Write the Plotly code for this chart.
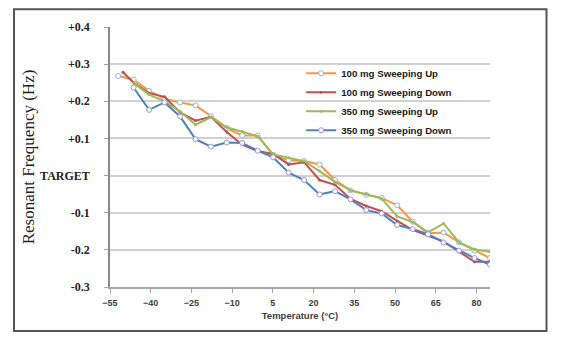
import plotly.graph_objects as go

# Temperatures (°C) of the measurement points
temps = [-52, -46.3, -40.6, -34.9, -29.2, -23.5, -17.8, -12.0, -6.3, -0.6, 5.1, 10.8,
         16.5, 22.2, 27.9, 33.6, 39.4, 45.1, 50.8, 56.5, 62.2, 67.9, 73.6, 79.3, 85.0]
temps_100_down = [-50.2, -46.3, -40.6, -34.9, -29.2, -23.5, -17.8, -12.0, -6.3, -0.6, 5.1, 10.8,
                  16.5, 22.2, 27.9, 33.6, 39.4, 45.1, 50.8, 56.5, 62.2, 67.9, 73.6, 79.3, 85.0]

up_100 = [0.268, 0.258, 0.228, 0.207, 0.197, 0.189, 0.16, 0.128, 0.108, 0.108, 0.055, 0.041,
          0.039, 0.03, -0.012, -0.04, -0.052, -0.06, -0.08, -0.124, -0.155, -0.153, -0.18, -0.202, -0.222]
down_100 = [0.278, 0.25, 0.222, 0.212, 0.17, 0.148, 0.158, 0.117, 0.083, 0.066, 0.058, 0.03,
            0.036, -0.012, -0.025, -0.063, -0.082, -0.096, -0.122, -0.146, -0.162, -0.177, -0.205, -0.232, -0.232]
up_350 = [None, 0.249, 0.218, 0.2, 0.173, 0.137, 0.157, 0.13, 0.119, 0.106, 0.057, 0.048,
          0.039, 0.012, -0.017, -0.04, -0.05, -0.062, -0.11, -0.125, -0.153, -0.129, -0.18, -0.199, -0.205]
down_350 = [None, 0.237, 0.177, 0.197, 0.159, 0.098, 0.078, 0.089, 0.088, 0.067, 0.049, 0.008,
            -0.012, -0.051, -0.042, -0.064, -0.093, -0.102, -0.133, -0.144, -0.158, -0.18, -0.202, -0.222, -0.24]

series_names = ["100 mg Sweeping Up", "100 mg Sweeping Down", "350 mg Sweeping Up", "350 mg Sweeping Down"]

y_tickvals = [-0.3, -0.2, -0.1, 0, 0.1, 0.2, 0.3, 0.4]
y_ticktext = ["-0.3", "-0.2", "-0.1", "TARGET", "+0.1", "+0.2", "+0.3", "+0.4"]
x_tickvals = [-55, -40, -25, -10, 5, 20, 35, 50, 65, 80]

fig = go.Figure()
fig.add_trace(go.Scatter(x=temps, y=up_100, name=series_names[0], mode="lines+markers",
                         line=dict(color="#F79646", width=2),
                         marker=dict(symbol="circle", size=5, color="white",
                                     line=dict(color="#95B3D7", width=1))))
fig.add_trace(go.Scatter(x=temps_100_down, y=down_100, name=series_names[1], mode="lines+markers",
                         line=dict(color="#C0504D", width=2),
                         marker=dict(symbol="circle", size=3, color="#C0504D")))
fig.add_trace(go.Scatter(x=temps, y=up_350, name=series_names[2], mode="lines+markers",
                         line=dict(color="#9BBB59", width=2),
                         marker=dict(symbol="circle", size=3, color="#9BBB59")))
fig.add_trace(go.Scatter(x=temps, y=down_350, name=series_names[3], mode="lines+markers",
                         line=dict(color="#4F81BD", width=2),
                         marker=dict(symbol="circle", size=5, color="white",
                                     line=dict(color="#9C95D3", width=1))))

fig.update_layout(
    width=572, height=342,
    margin=dict(l=110, r=82, t=27, b=55),
    paper_bgcolor="white", plot_bgcolor="white",
    showlegend=True,
    legend=dict(x=0.503, y=0.878, xanchor="left", yanchor="top",
                bgcolor="rgba(0,0,0,0)",
                font=dict(family="Liberation Sans", size=9.7, color="#1a1a1a", weight="bold")),
    xaxis=dict(range=[-55, 85], tickvals=x_tickvals, showgrid=False, zeroline=False,
               showline=True, linecolor="#A6A6A6", linewidth=1.5,
               ticks="outside", ticklen=4, tickcolor="#A6A6A6",
               ticklabelstandoff=2,
               tickfont=dict(family="Liberation Sans", size=9, color="#404040", weight="bold"),
               title=dict(text="Temperature (°C)", standoff=6,
                          font=dict(family="Liberation Sans", size=9.5, color="#404040", weight="bold"))),
    yaxis=dict(range=[-0.3, 0.4], tickvals=y_tickvals, ticktext=y_ticktext,
               showgrid=True, gridcolor="#D0D0D0", gridwidth=1.5, zeroline=False,
               showline=True, linecolor="#888888", linewidth=1.5,
               ticks="outside", ticklen=4, tickcolor="#A6A6A6",
               ticklabelstandoff=12,
               tickfont=dict(family="Liberation Serif", size=12, color="#222222", weight="bold"),
               title=dict(text="Resonant Frequency (Hz)", standoff=1,
                          font=dict(family="Liberation Serif", size=17, color="#222222"))),
)

# outer chart border
fig.add_shape(type="rect", xref="paper", yref="paper",
              x0=(14 - 110) / 380, x1=(546.5 - 110) / 380,
              y0=(287 - 331) / 260, y1=(287 - 9.3) / 260,
              line=dict(color="#555555", width=2), layer="below")

fig.write_html("out.html")
